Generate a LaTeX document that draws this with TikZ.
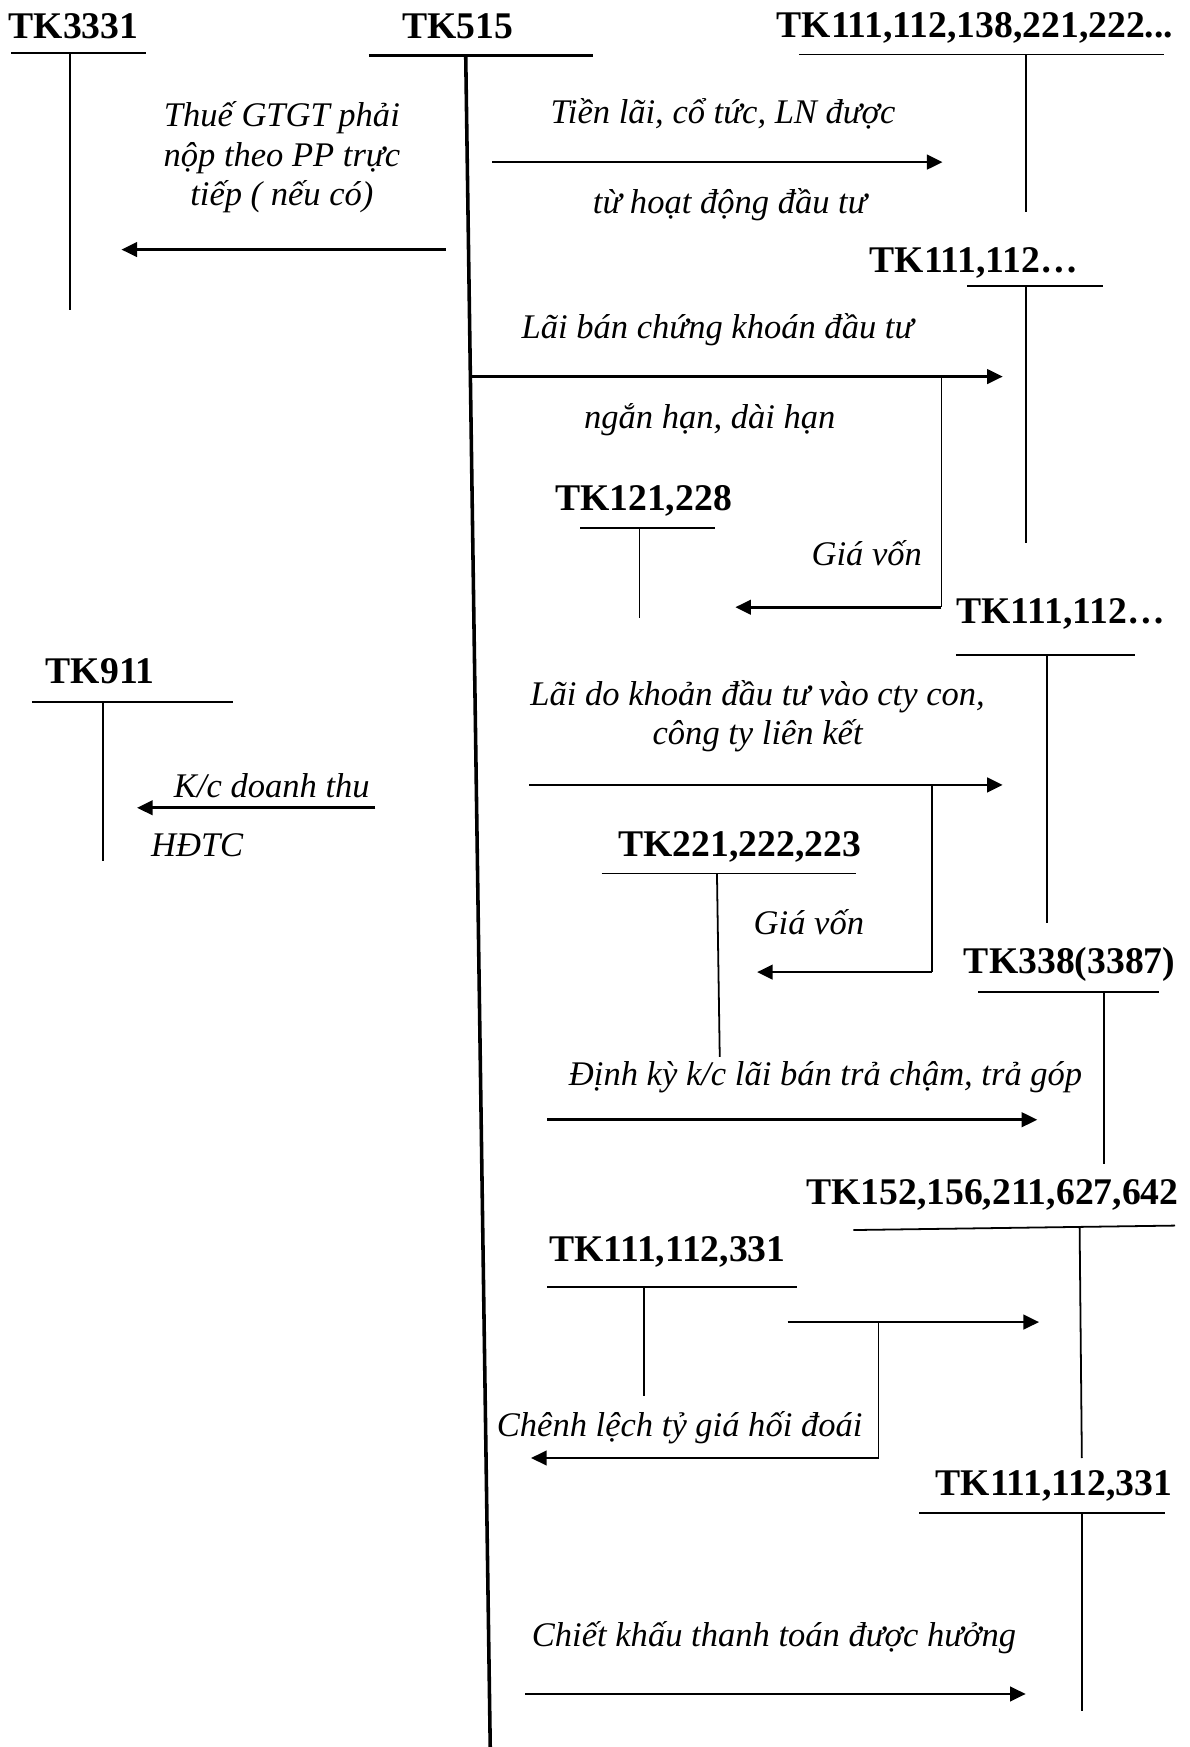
\documentclass[tikz,border=0pt]{standalone}
\usepackage{fontspec}
\setmainfont{Liberation Serif}
\usetikzlibrary{arrows.meta}
\tikzset{
  acc/.style={font=\fontsize{16.9}{19}\selectfont\bfseries, anchor=base, inner sep=0pt},
  lbl/.style={font=\fontsize{15.5}{17.75}\selectfont\itshape, anchor=base, inner sep=0pt, align=center},
  tline/.style={line width=0.8pt},
  flow/.style={line width=1.2pt, -{Triangle[length=7pt,width=6.5pt]}},
  heavy/.style={line width=1.6pt},
}
\begin{document}
\begin{tikzpicture}[x=0.5pt,y=-0.5pt]
\useasboundingbox (0,0) rectangle (1068,1568);

% ---------- TK515 (main account)
\node[acc] (t515) at (411,34.5) {TK515};
\coordinate (m515L) at (331,50);
\coordinate (m515R) at (532,50);
\coordinate (m515T) at (418,50);
\coordinate (m515B) at (440,1568);
\draw[heavy] (m515L) -- (m515R);
\draw[heavy] (m515T) -- (m515B);

% ---------- TK3331
\node[acc] (t3331) at (66,34.5) {TK3331};
\coordinate (a1L) at (10,47.5);
\coordinate (a1R) at (131,47.5);
\coordinate (a1T) at (62.5,47.5);
\coordinate (a1B) at (62.5,278);
\draw[tline] (a1L) -- (a1R);
\draw[tline] (a1T) -- (a1B);
\node[lbl] (l1) at (253,184.5) {Thuế GTGT phải\\nộp theo PP trực\\tiếp ( nếu có)};
\coordinate (f1s) at (400,224);
\coordinate (f1e) at (109,224);
\draw[flow] (f1s) -- (f1e);

% ---------- TK111,112,138,221,222...
\node[acc] (t111a) at (875,34) {TK111,112,138,221,222...};
\coordinate (a2L) at (717,49);
\coordinate (a2R) at (1045,49);
\coordinate (a2T) at (921,49);
\coordinate (a2B) at (921,190);
\draw[tline] (a2L) -- (a2R);
\draw[tline] (a2T) -- (a2B);
\node[lbl] (l2a) at (649,111) {Tiền lãi, cổ tức, LN được};
\node[lbl] (l2b) at (655,191.5) {từ hoạt động đầu tư};
\coordinate (f2s) at (442,145.5);
\coordinate (f2e) at (846,145.5);
\draw[flow] (f2s) -- (f2e);

% ---------- TK111,112... (1)
\node[acc] (t111b) at (874,245) {TK111,112…};
\coordinate (a3L) at (868,257);
\coordinate (a3R) at (990,257);
\coordinate (a3T) at (921,257);
\coordinate (a3B) at (921,487);
\draw[tline] (a3L) -- (a3R);
\draw[tline] (a3T) -- (a3B);
\node[lbl] (l3a) at (644,304) {Lãi bán chứng khoán đầu tư};
\node[lbl] (l3b) at (637,384.5) {ngắn hạn, dài hạn};
\coordinate (f3s) at (423,338);
\coordinate (f3e) at (900,338);
\coordinate (f3k) at (845,338);
\coordinate (f3c) at (845,545);
\coordinate (f3t) at (660,545);
\draw[flow] (f3s) -- (f3e);
\draw[tline] (f3k) -- (f3c);
\draw[flow] (f3c) -- (f3t);

% ---------- TK121,228
\node[acc] (t121) at (577.5,458) {TK121,228};
\coordinate (a4L) at (521,474);
\coordinate (a4R) at (642,474);
\coordinate (a4T) at (574,474);
\coordinate (a4B) at (574,555);
\draw[tline] (a4L) -- (a4R);
\draw[tline] (a4T) -- (a4B);
\node[lbl] (l4) at (778,507.5) {Giá vốn};

% ---------- TK111,112... (2)
\node[acc] (t111c) at (952,560) {TK111,112…};
\coordinate (a5L) at (858,588);
\coordinate (a5R) at (1019,588);
\coordinate (a5T) at (940,588);
\coordinate (a5B) at (940,828);
\draw[tline] (a5L) -- (a5R);
\draw[tline] (a5T) -- (a5B);
\node[lbl] (l5) at (680,668.5) {Lãi do khoản đầu tư vào cty con,\\công ty liên kết};
\coordinate (f5s) at (475,704.5);
\coordinate (f5e) at (900,704.5);
\coordinate (f5k) at (836.5,704.5);
\coordinate (f5c) at (836.5,872.5);
\coordinate (f5t) at (679.5,872.5);
\draw[flow] (f5s) -- (f5e);
\draw[tline] (f5k) -- (f5c);
\draw[flow] (f5c) -- (f5t);

% ---------- TK911
\node[acc] (t911) at (90,613.5) {TK911};
\coordinate (a6L) at (28.5,630);
\coordinate (a6R) at (209,630);
\coordinate (a6T) at (92.5,630);
\coordinate (a6B) at (92.5,772.5);
\draw[tline] (a6L) -- (a6R);
\draw[tline] (a6T) -- (a6B);
\node[lbl] (l6a) at (244,716) {K/c doanh thu};
\node[lbl] (l6b) at (177,769) {HĐTC};
\coordinate (f6s) at (337,725);
\coordinate (f6e) at (123,725);
\draw[flow] (f6s) -- (f6e);

% ---------- TK221,222,223
\node[acc] (t221) at (664,769) {TK221,222,223};
\coordinate (a7L) at (540,784);
\coordinate (a7R) at (768,784);
\coordinate (a7T) at (643.5,784);
\coordinate (a7B) at (646,948.5);
\draw[tline] (a7L) -- (a7R);
\draw[tline] (a7T) -- (a7B);
\node[lbl] (l7) at (726,839) {Giá vốn};

% ---------- TK338(3387)
\node[acc] (t338) at (960,873.5) {TK338(3387)};
\coordinate (a8L) at (878,890);
\coordinate (a8R) at (1040,890);
\coordinate (a8T) at (991,890);
\coordinate (a8B) at (991,1045);
\draw[tline] (a8L) -- (a8R);
\draw[tline] (a8T) -- (a8B);
\node[lbl] (l8) at (741,974) {Định kỳ k/c lãi bán trả chậm, trả góp};
\coordinate (f8s) at (491,1005);
\coordinate (f8e) at (931,1005);
\draw[flow] (f8s) -- (f8e);

% ---------- TK152,156,211,627,642
\node[acc] (t152) at (890.7,1080.7) {TK152,156,211,627,642};
\coordinate (a9L) at (766,1104);
\coordinate (a9R) at (1054.6,1100);
\coordinate (a9T) at (969,1102);
\coordinate (a9B) at (971,1308.6);
\draw[tline] (a9L) -- (a9R);
\draw[tline] (a9T) -- (a9B);

% ---------- TK111,112,331 (left)
\node[acc] (t111d) at (599,1132.5) {TK111,112,331};
\coordinate (a10L) at (491,1155);
\coordinate (a10R) at (715,1155);
\coordinate (a10T) at (578,1155);
\coordinate (a10B) at (578,1253);
\draw[tline] (a10L) -- (a10R);
\draw[tline] (a10T) -- (a10B);
\coordinate (f10s) at (707,1186.6);
\coordinate (f10e) at (932.6,1186.6);
\coordinate (f10k) at (788.5,1186.6);
\coordinate (f10c) at (788.5,1308.6);
\coordinate (f10t) at (476.6,1308.6);
\draw[flow] (f10s) -- (f10e);
\draw[tline] (f10k) -- (f10c);
\draw[flow] (f10c) -- (f10t);
\node[lbl] (l10) at (610,1289.4) {Chênh lệch tỷ giá hối đoái};

% ---------- TK111,112,331 (right)
\node[acc] (t111e) at (946,1342) {TK111,112,331};
\coordinate (a11L) at (825,1358);
\coordinate (a11R) at (1045.6,1358);
\coordinate (a11T) at (971,1358);
\coordinate (a11B) at (971,1536);
\draw[tline] (a11L) -- (a11R);
\draw[tline] (a11T) -- (a11B);
\node[lbl] (l11) at (694.7,1478) {Chiết khấu thanh toán được hưởng};
\coordinate (f11s) at (471.6,1520.4);
\coordinate (f11e) at (920.6,1520.4);
\draw[flow] (f11s) -- (f11e);
\end{tikzpicture}
\end{document}
